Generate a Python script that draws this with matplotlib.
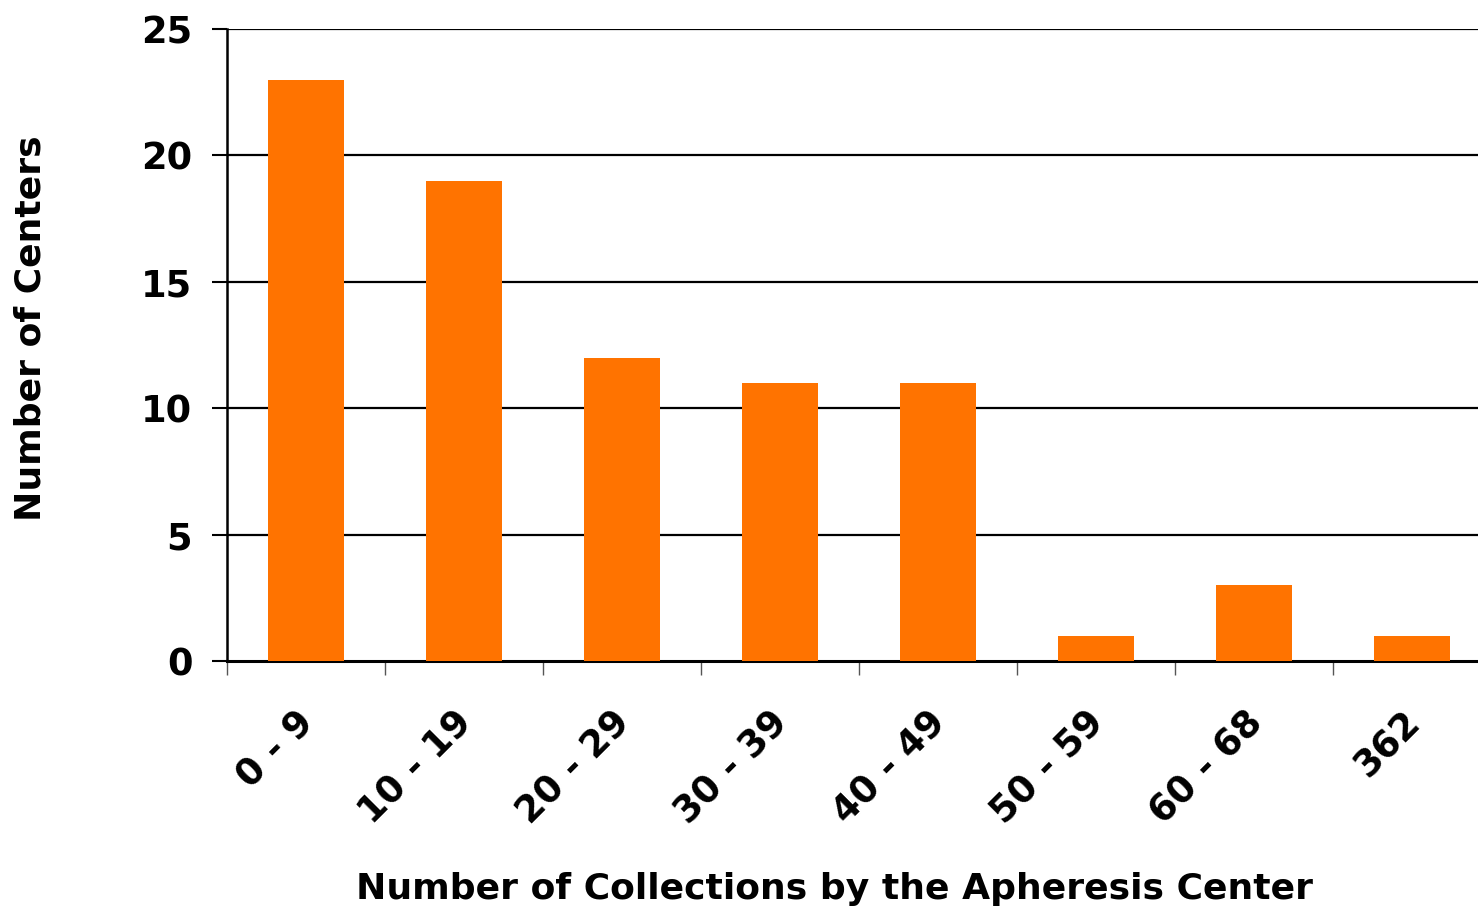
import matplotlib
matplotlib.use("Agg")
import matplotlib.pyplot as plt

categories = ["0 - 9", "10 - 19", "20 - 29", "30 - 39", "40 - 49", "50 - 59", "60 - 68", "362"]
centers = [23, 19, 12, 11, 11, 1, 3, 1]

plt.rcParams['font.family'] = ['DejaVu Sans']
plt.rcParams['font.weight'] = 'bold'

W, H = 1478, 911
fig = plt.figure(figsize=(W / 100, H / 100), dpi=100)
left, right, top, bottom = 227, 1491, 29, 661
ax = fig.add_axes([left / W, 1 - bottom / H, (right - left) / W, (bottom - top) / H])

x = list(range(len(categories)))
ax.bar(x, centers, width=0.475, color='#FF7300', zorder=3)
ax.set_xlim(-0.5, len(categories) - 0.5)
ax.set_ylim(0, 25)
ax.set_yticks([0, 5, 10, 15, 20, 25])
for v in [5, 10, 15, 20, 25]:
    ax.axhline(v, color='black', lw=1.6, zorder=1)

ax.set_xticks([i - 0.5 for i in range(len(categories))])
ax.set_xticklabels([])
for i, lab in enumerate(categories):
    ax.annotate(lab, xy=(i, 0), xycoords=('data', 'axes fraction'),
                xytext=(-7.5, -31), textcoords='offset points',
                rotation=45, ha='right', va='top', rotation_mode='anchor',
                fontsize=26.5, fontweight='bold', annotation_clip=False)
ax.tick_params(axis='x', which='major', length=10, width=1, color='#555555', direction='out')
ax.tick_params(axis='y', length=11, width=1.5, labelsize=26.5, pad=14)
for lab in ax.get_yticklabels():
    lab.set_fontweight('bold')

for s in ['top', 'right']:
    ax.spines[s].set_visible(False)
ax.spines['left'].set_linewidth(1.8)
ax.spines['bottom'].set_linewidth(2.2)

fig.text(835 / W, 1 - 889 / H, 'Number of Collections by the Apheresis Center',
         ha='center', va='center', fontsize=26, fontweight='bold')
fig.text(31 / W, 1 - 328 / H, 'Number of Centers', ha='center', va='center',
         rotation=90, fontsize=26, fontweight='bold')

fig.savefig('out.png', dpi=100)
